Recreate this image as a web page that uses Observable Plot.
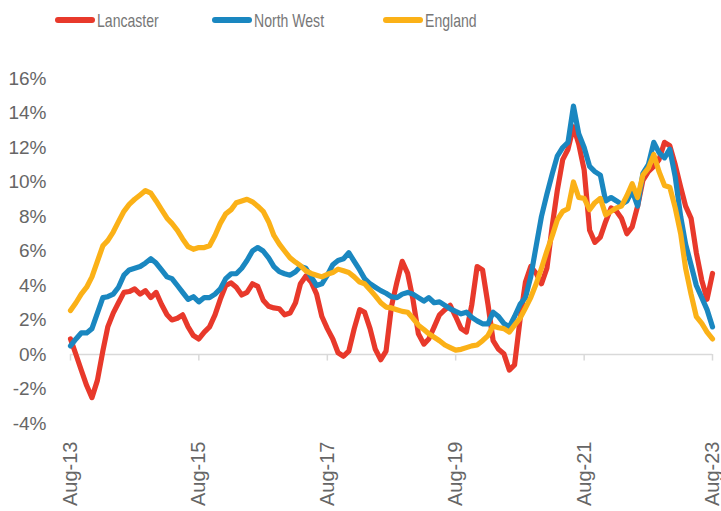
<!DOCTYPE html>
<html>
<head>
<meta charset="utf-8">
<script src="https://cdn.jsdelivr.net/npm/d3@7"></script>
<script src="https://cdn.jsdelivr.net/npm/@observablehq/plot@0.6"></script>
<style>
  html, body { margin: 0; padding: 0; background: #fff; }
  #wrap { width: 721px; height: 511px; position: relative; overflow: hidden; }
  #legend { position: relative; height: 40px; width: 721px;
    font-family: "Liberation Sans", Arial, sans-serif;
    font-size: 19px; color: #777; }
  .sw { position: absolute; top: 17px; width: 40px; height: 6px; border-radius: 3px; }
  .lb { position: absolute; top: 11px; line-height: 19px; white-space: nowrap;
        transform: scaleX(0.74); transform-origin: 0 50%; }
</style>
</head>
<body>
<div id="wrap">
  <div id="legend"></div>
  <div id="chart"></div>
</div>
<script>
const seriesNames = ["Lancaster", "North West", "England"];
const seriesColors = ["#e8392b", "#1a87c0", "#fbb117"];
const tickLabels = ["Aug-13", "Aug-15", "Aug-17", "Aug-19", "Aug-21", "Aug-23"];
const yTicks = [-4, -2, 0, 2, 4, 6, 8, 10, 12, 14, 16];

const lancaster = [
  0.9, 0.0, -0.9, -1.8, -2.5, -1.5, 0.2, 1.6, 2.4, 3.0,
  3.6, 3.65, 3.8, 3.5, 3.7, 3.3, 3.6, 2.9, 2.3, 2.0,
  2.1, 2.3, 1.6, 1.1, 0.9, 1.3, 1.6, 2.3, 3.2, 4.0,
  4.15, 3.9, 3.45, 3.6, 4.1, 3.95, 3.15, 2.8, 2.7, 2.65,
  2.3, 2.4, 3.0, 4.1, 4.55, 4.2, 3.5, 2.2, 1.5, 0.9,
  0.1, -0.1, 0.2, 1.5, 2.6, 2.45, 1.5, 0.3, -0.3, 0.2,
  2.8, 4.2, 5.4, 4.7, 3.2, 1.2, 0.6, 0.9, 1.6, 2.3,
  2.6, 2.85, 2.2, 1.5, 1.3, 2.9, 5.1, 4.9, 2.9, 0.8,
  0.3, 0.05, -0.9, -0.6, 2.0, 4.2, 5.1, 4.7, 4.1, 5.0,
  7.5, 9.5, 11.3, 11.9, 13.2, 12.2, 10.7, 7.2, 6.5, 6.8,
  7.7, 8.5, 8.3, 7.9, 7.0, 7.4, 8.6, 10.1, 10.6, 10.9,
  11.3, 12.3, 12.1, 11.0, 9.7, 8.6, 7.9, 5.9, 4.3, 3.2, 4.7
];
const northWest = [
  0.5, 0.9, 1.25, 1.25, 1.5, 2.4, 3.3, 3.35, 3.5, 3.9,
  4.6, 4.9, 5.0, 5.1, 5.3, 5.55, 5.3, 4.9, 4.5, 4.4,
  4.0, 3.6, 3.2, 3.35, 3.05, 3.3, 3.3, 3.5, 3.8, 4.4,
  4.68, 4.68, 5.0, 5.45, 6.0, 6.2, 6.0, 5.6, 5.1, 4.8,
  4.68, 4.6, 4.8, 5.1, 5.0, 4.5, 4.0, 4.1, 4.6, 5.2,
  5.45, 5.55, 5.9, 5.4, 4.9, 4.4, 4.1, 3.9, 3.7, 3.55,
  3.35, 3.3, 3.5, 3.6, 3.5, 3.3, 3.1, 3.3, 3.0, 3.05,
  2.85, 2.65, 2.5, 2.36, 2.45, 2.15, 1.95, 1.78, 1.78, 2.45,
  2.2, 1.8, 1.6, 2.2, 2.9, 3.3, 4.5, 6.3, 8.0, 9.3,
  10.5, 11.5, 12.0, 12.3, 14.4, 12.8, 12.0, 10.9, 10.6, 10.4,
  8.9, 9.1, 8.9, 8.7, 8.9, 9.5, 8.6, 10.5, 11.0, 12.3,
  11.7, 11.4, 11.9, 10.3, 8.0, 6.4, 5.2, 4.0, 3.3, 2.6, 1.6
];
const england = [
  2.55, 3.0, 3.5, 3.9, 4.5, 5.4, 6.3, 6.6, 7.1, 7.7,
  8.3, 8.7, 9.0, 9.25, 9.5, 9.35, 8.9, 8.4, 7.9, 7.6,
  7.2, 6.7, 6.25, 6.1, 6.2, 6.2, 6.3, 6.9, 7.6, 8.15,
  8.4, 8.8, 8.9, 9.0, 8.85, 8.6, 8.3, 7.7, 6.9, 6.4,
  6.0, 5.6, 5.35, 5.15, 4.85, 4.7, 4.6, 4.5, 4.65, 4.75,
  4.95, 4.85, 4.75, 4.5, 4.2, 4.1, 3.75, 3.4, 3.0, 2.75,
  2.7, 2.6, 2.5, 2.45, 2.1, 1.7, 1.45, 1.2, 1.0, 0.8,
  0.55, 0.4, 0.25, 0.3, 0.4, 0.5, 0.55, 0.8, 1.1, 1.65,
  1.55, 1.5, 1.3, 1.7, 2.1, 2.7, 3.3, 4.1, 5.0, 6.0,
  6.9, 7.8, 8.3, 8.45, 10.0, 9.1, 9.05, 8.4, 8.8, 9.05,
  8.1, 8.3, 8.5, 8.6, 9.2, 9.9, 9.1, 10.4, 10.8, 11.6,
  10.6, 9.8, 9.7, 8.5, 7.0, 5.0, 3.5, 2.2, 1.8, 1.3, 0.9
];

const parse = d3.utcParse("%b-%y");
const tickDates = tickLabels.map(parse);
const months = d3.utcMonths(tickDates[0], d3.utcMonth.offset(tickDates[tickDates.length - 1], 1));
const seriesValues = [lancaster, northWest, england];

const rows = [];
seriesNames.forEach((name, s) => {
  seriesValues[s].forEach((v, i) => rows.push({date: months[i], value: v, series: name}));
});

// Legend (HTML, above the SVG)
const legend = document.getElementById("legend");
const swatchLeft = [55, 212, 383];
seriesNames.forEach((name, i) => {
  const sw = document.createElement("div");
  sw.className = "sw";
  sw.style.left = swatchLeft[i] + "px";
  sw.style.background = seriesColors[i];
  legend.appendChild(sw);
  const lb = document.createElement("span");
  lb.className = "lb";
  lb.style.left = (swatchLeft[i] + 42) + "px";
  lb.textContent = name;
  legend.appendChild(lb);
});

const chart = Plot.plot({
  width: 721,
  height: 471,
  marginTop: 38,
  marginBottom: 88,
  marginLeft: 70,
  marginRight: 9,
  style: {fontFamily: "Liberation Sans, Arial, sans-serif", fontSize: "19px", color: "#666", background: "#fff"},
  x: {type: "utc", domain: [tickDates[0], tickDates[tickDates.length - 1]], label: null},
  y: {domain: [-4, 16], label: null},
  color: {domain: seriesNames, range: seriesColors},
  marks: [
    Plot.axisY({ticks: yTicks, tickSize: 0, tickPadding: 24, tickFormat: d => d + "%", fontSize: 19, fill: "#666", label: null}),
    Plot.axisX({ticks: tickDates, tickSize: 0, tickPadding: 18, tickRotate: -90, tickFormat: d3.utcFormat("%b-%y"), fontSize: 20, fill: "#666", label: null}),
    Plot.ruleY([0], {stroke: "#d9d9d9", strokeWidth: 1.5}),
    Plot.ruleX(tickDates, {x: d => d, y1: 0, y2: -0.38, stroke: "#d9d9d9", strokeWidth: 1.5}),
    Plot.lineY(rows, {x: "date", y: "value", z: "series", stroke: "series", strokeWidth: 5.2, strokeLinejoin: "round", strokeLinecap: "round"})
  ]
});
document.getElementById("chart").appendChild(chart);
</script>
</body>
</html>
